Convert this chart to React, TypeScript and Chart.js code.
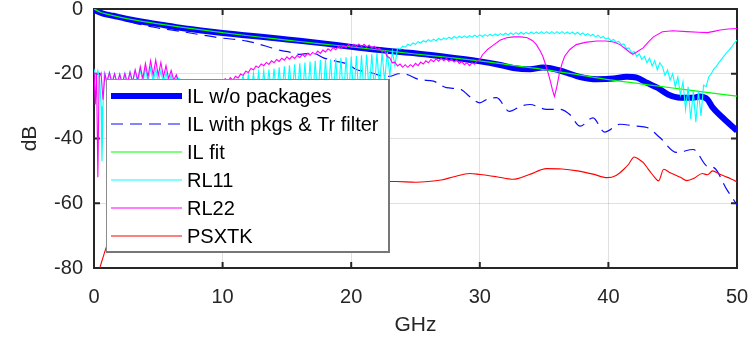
import React, { useEffect, useRef } from "react";
import { Chart, registerables } from "chart.js";

Chart.register(...registerables);

// ---------- axis ticks ----------
const xTickValues = [0, 10, 20, 30, 40, 50];
const yTickValues = [-80, -60, -40, -20, 0];

// ---------- legend labels ----------
const seriesLabels = [
  "IL w/o packages",
  "IL with pkgs & Tr filter",
  "IL fit",
  "RL11",
  "RL22",
  "PSXTK",
];

// ---------- IL w/o packages ----------
const ilFreq = [0, 0.3, 0.7, 1.5, 2.5, 4, 5.5, 6.7, 8.5, 10, 11.5, 13, 14.5, 16, 18, 20, 22, 24.8, 27, 29.9, 31.5, 32.6, 33.9, 34.9, 35.5, 36.2, 36.8, 37.8, 39.1, 40.4, 41.4, 42.2, 43, 43.8, 44.6, 45.6, 46.6, 47.1, 47.7, 48.1, 48.9, 50];
const ilValues = [0, -0.8, -1.4, -2.1, -3.0, -4.1, -5.0, -5.8, -6.7, -7.4, -8.0, -8.6, -9.2, -9.8, -10.7, -11.7, -12.6, -13.6, -14.6, -16.1, -17.2, -18.2, -18.6, -18.1, -18.3, -19.0, -19.7, -21.0, -21.7, -21.5, -20.9, -21.2, -22.8, -24.3, -26.3, -27.4, -27.4, -27.0, -27.9, -30.4, -33.6, -37.6];

// ---------- IL with pkgs & Tr filter ----------
const pkgFreq = [0, 1, 2, 3.3, 4.9, 6.7, 8.2, 9.8, 11.9, 13.4, 14.5, 15.2, 16, 17, 17.8, 18.7, 19.7, 20.4, 21.5, 22.2, 23, 23.7, 24.3, 25.3, 26.4, 27.4, 28.5, 29.2, 30, 30.6, 31.3, 32.3, 33.2, 33.9, 35.2, 36.2, 37, 37.8, 38.8, 39.7, 40.9, 42.2, 43, 44, 45.3, 46.6, 47.7, 48.2, 49.2, 50];
const pkgValues = [0, -1.6, -3.0, -4.5, -5.8, -6.9, -7.9, -8.9, -9.9, -11.5, -12.8, -13.3, -14.0, -13.6, -15.0, -16.0, -17.0, -18.7, -19.6, -20.5, -20.8, -20.0, -20.2, -21.8, -22.3, -24.3, -24.8, -27.0, -29.0, -27.8, -27.4, -31.6, -30.0, -29.5, -31.0, -31.0, -32.6, -36.2, -33.6, -38.0, -35.6, -36.2, -36.6, -39.7, -44.3, -43.4, -48.6, -49.0, -55.7, -60.5];

// ---------- IL fit ----------
const fitFreq = [0, 0.5, 1, 2, 3, 5, 7.5, 10, 12.5, 15, 17.5, 20, 22.5, 25, 27.5, 30, 32.5, 35, 37.5, 40, 42.5, 45, 47.5, 50];
const fitValues = [0, -1.0, -1.6, -2.5, -3.3, -4.6, -6.0, -7.3, -8.5, -9.6, -10.7, -11.7, -12.8, -13.9, -14.9, -16.0, -17.4, -18.7, -20.2, -21.8, -23.1, -24.4, -25.7, -26.9];

// ---------- RL11 ----------
const rl11FreqA = [0, 0.15, 0.3, 0.45, 0.55, 0.62, 0.7, 0.8, 1.0, 1.2, 1.4, 1.6, 1.8, 2.0, 2.2, 2.4, 2.6, 2.8, 3.0, 3.2, 3.4, 3.6, 3.8, 4.0, 4.2, 4.4, 4.6, 4.8, 5.0, 5.2, 5.4, 5.6, 5.8, 6.0, 6.2, 6.4];
const rl11ValuesA = [-18.5, -21.5, -19, -22, -30, -47, -30, -20, -23, -19.5, -23, -20, -23.5, -20, -23.5, -19.8, -23.5, -19.5, -23, -19, -23, -18.6, -22.8, -18.2, -22.5, -18.2, -22.5, -18.5, -22.8, -19, -23.2, -19.6, -23.5, -20.3, -24, -21];
const rl11FreqH = [6.8, 7.2, 7.6, 8.0, 8.4, 8.8, 9.2, 9.6, 10.0, 10.4, 10.8, 11.2];
const rl11ValuesH = [-22, -25, -22.2, -25.5, -22.4, -25.5, -22.5, -26, -22.3, -26, -22, -25.5];
const rl11FreqB = [11.6, 11.8, 12, 12.2, 12.4, 12.6, 12.8, 13, 13.2, 13.4, 13.6, 13.8, 14, 14.2, 14.4, 14.6, 14.8, 15, 15.2, 15.4, 15.6, 15.8, 16, 16.2, 16.4, 16.6, 16.8, 17, 17.2, 17.4, 17.6, 17.8, 18, 18.2, 18.4, 18.6, 18.8, 19, 19.2, 19.4, 19.6, 19.8, 20, 20.2, 20.4, 20.6, 20.8, 21, 21.2, 21.4, 21.6, 21.8, 22, 22.2, 22.4, 22.6, 22.8, 23, 23.2, 23.4];
const rl11ValuesB = [-20.6, -26, -20.3, -26, -19.9, -26.5, -19.5, -26.5, -19.1, -27, -18.7, -27, -18.4, -27, -18.0, -27.5, -17.7, -27.5, -17.4, -27.5, -17.1, -28, -16.8, -28, -16.5, -28, -16.2, -28, -16.0, -28, -15.8, -28, -15.6, -28, -15.5, -28, -15.3, -28, -15.1, -28, -14.9, -27.5, -14.7, -27.5, -14.5, -27, -14.3, -26.5, -14.1, -26, -13.9, -25, -13.7, -24, -13.5, -22.5, -13.3, -20.5, -13.1, -17.5];
const rl11FreqC = [23.6, 23.8, 24, 24.2, 24.4, 24.6, 24.8, 25, 25.2, 25.4, 25.6, 25.8, 26, 26.2, 26.4, 26.6, 26.8, 27, 27.2, 27.4, 27.6, 27.8, 28, 28.2, 28.4, 28.6, 28.8, 29, 29.2, 29.4, 29.6, 29.8, 30, 30.2, 30.4, 30.6, 30.8, 31, 31.2, 31.4, 31.6, 31.8, 32, 32.2, 32.4, 32.6, 32.8, 33, 33.2, 33.4, 33.6, 33.8, 34, 34.2, 34.4, 34.6, 34.8, 35, 35.2, 35.4, 35.6, 35.8, 36, 36.2, 36.4, 36.6, 36.8, 37, 37.2, 37.4, 37.6, 37.8, 38, 38.2, 38.4, 38.6, 38.8, 39, 39.2, 39.4, 39.6, 39.8, 40, 40.2, 40.4, 40.6, 40.8, 41, 41.2, 41.4, 41.6, 41.8, 42, 42.2, 42.4, 42.6, 42.8, 43, 43.2, 43.4, 43.6, 43.8, 44];
const rl11ValuesC = [-12.1, -12.4, -11.5, -11.8, -10.9, -11.3, -10.5, -10.9, -10.1, -10.5, -9.8, -10.2, -9.5, -10.0, -9.3, -9.8, -9.1, -9.6, -8.9, -9.4, -8.7, -9.2, -8.5, -9.0, -8.4, -8.9, -8.3, -8.8, -8.2, -8.7, -8.1, -8.6, -8.0, -8.5, -7.9, -8.4, -7.8, -8.3, -7.7, -8.2, -7.6, -8.1, -7.5, -8.0, -7.4, -7.9, -7.3, -7.8, -7.2, -7.8, -7.2, -7.7, -7.1, -7.7, -7.1, -7.6, -7.0, -7.6, -7.0, -7.6, -7.0, -7.6, -7.0, -7.6, -7.0, -7.6, -7.1, -7.7, -7.1, -7.8, -7.2, -7.9, -7.4, -8.1, -7.6, -8.3, -7.8, -8.6, -8.1, -8.9, -8.5, -9.3, -8.9, -9.8, -9.4, -10.3, -10.0, -11.0, -10.8, -12.2, -12.0, -13.5, -13.1, -14.6, -13.9, -15.6, -14.6, -16.6, -15.2, -17.6, -15.9, -18.8, -16.6];
const rl11FreqD = [44.2, 44.4, 44.6, 44.8, 45, 45.2, 45.4, 45.6, 45.8, 46, 46.2, 46.4, 46.6, 46.8, 47, 47.2, 47.4, 47.6, 47.8, 48, 48.2, 48.4, 48.6, 48.8, 49, 49.2, 49.4, 49.6, 49.8, 50];
const rl11ValuesD = [-17.8, -20.5, -18.8, -22, -20, -24, -21, -26.5, -22.5, -31, -24, -34, -25.5, -35, -25.5, -33, -23.5, -24, -21, -20, -18.5, -17.7, -16.5, -15.5, -14.5, -13.5, -12.6, -11.6, -10.5, -9.6];

// ---------- RL22 ----------
const rl22FreqA = [0, 0.1, 0.2, 0.3, 0.4, 0.55, 0.7, 0.85, 1.0, 1.2, 1.4, 1.6, 1.8, 2.0, 2.2, 2.4, 2.6, 2.8, 3.0, 3.2, 3.4, 3.6, 3.8, 4.0, 4.2, 4.4, 4.6, 4.8, 5.0, 5.2, 5.4, 5.6, 5.8, 6.0, 6.2, 6.4, 6.6];
const rl22ValuesA = [-19.5, -29.5, -20, -52, -21, -19.8, -28, -20, -22.5, -19.7, -22.8, -20, -23, -20.2, -23, -20, -22.8, -19.5, -22.5, -18.8, -22, -17.8, -21.5, -16.8, -21, -16, -20.5, -15.8, -20.5, -16.5, -21, -17.5, -21.5, -19, -22, -20.3, -23];
const rl22FreqH = [7.0, 7.5, 8.0, 8.5, 9.0, 9.5, 9.8, 10.0, 10.2, 10.4, 10.6, 10.8, 11.0, 11.2];
const rl22ValuesH = [-22, -24, -22.5, -24.5, -22.5, -23.5, -21.8, -22.8, -21.5, -22.5, -21.2, -22, -20.8, -21.3];
const rl22FreqB = [11.4, 11.6, 11.8, 12, 12.2, 12.4, 12.6, 12.8, 13, 13.2, 13.4, 13.6, 13.8, 14, 14.2, 14.4, 14.6, 14.8, 15, 15.2, 15.4, 15.6, 15.8, 16, 16.2, 16.4, 16.6, 16.8, 17, 17.2, 17.4, 17.6, 17.8, 18, 18.2, 18.4, 18.6, 18.8, 19, 19.2, 19.4, 19.6, 19.8, 20, 20.2, 20.4, 20.6, 20.8, 21, 21.2, 21.4, 21.6, 21.8, 22, 22.2, 22.4, 22.6, 22.8, 23, 23.2, 23.4, 23.6, 23.8, 24, 24.2, 24.4, 24.6, 24.8, 25, 25.2, 25.4, 25.6, 25.8, 26, 26.2, 26.4, 26.6, 26.8, 27, 27.2, 27.4, 27.6, 27.8, 28, 28.2, 28.4, 28.6, 28.8, 29, 29.2, 29.4, 29.6, 29.8, 30];
const rl22ValuesB = [-20.1, -20.5, -19.2, -19.6, -18.4, -18.8, -17.6, -18.1, -17.0, -17.5, -16.5, -17.1, -16.0, -16.6, -15.6, -16.2, -15.2, -15.8, -14.8, -15.5, -14.6, -15.3, -14.3, -15.0, -14.0, -14.7, -13.7, -14.3, -13.4, -14.0, -13.0, -13.7, -12.7, -13.3, -12.3, -12.9, -11.9, -12.6, -11.6, -12.2, -11.3, -11.9, -11.0, -11.7, -10.9, -11.6, -10.8, -11.6, -10.9, -11.8, -11.1, -12.1, -11.5, -12.5, -12.1, -13.2, -12.9, -14.7, -15.1, -16.6, -16.4, -17.6, -17.0, -18.0, -17.2, -18.0, -17.2, -17.8, -16.8, -17.5, -16.4, -17.0, -16.0, -16.6, -15.6, -16.3, -15.4, -16.1, -15.2, -16.0, -15.3, -16.2, -15.5, -16.4, -15.7, -16.8, -16.2, -17.2, -16.6, -17.5, -16.6, -17.1, -15.9, -15.7];
const rl22FreqC = [30.2, 30.6, 31.0, 31.6, 32.1, 32.6, 33.2, 33.7, 34.1, 34.4, 34.7, 34.9, 35.1, 35.3, 35.5, 35.65, 35.8, 35.9, 36.0, 36.2, 36.4, 36.6, 37.0, 37.5, 38.2, 39.1, 39.8, 40.4, 40.9, 41.4, 41.7, 41.9, 42.2, 42.7, 43.1, 43.5, 44.2, 45.0, 46.1, 47.0, 47.7, 48.2, 48.7, 49.3, 50.0];
const rl22ValuesC = [-14.2, -12.5, -11.3, -9.6, -8.9, -8.6, -8.6, -8.9, -9.8, -11.0, -13.0, -14.6, -17.0, -19.6, -22.5, -25.0, -27.0, -25.5, -23.8, -19.6, -16.8, -14.6, -12.5, -11.0, -10.3, -9.9, -9.9, -10.2, -11.0, -12.5, -13.5, -14.0, -13.3, -12.0, -10.2, -8.6, -7.0, -6.7, -7.0, -7.2, -7.3, -6.9, -6.5, -6.2, -6.0];

// ---------- PSXTK ----------
const xtFreq = [0.45, 0.6, 0.8, 1.0, 1.3, 1.7, 2.2, 3, 4, 5, 6.5, 8, 10, 12, 14, 16, 18, 20, 22, 23.5, 25, 26, 27, 28, 29.2, 30, 31.3, 32.6, 33.8, 35.2, 36.4, 37.6, 38.8, 39.9, 40.6, 41.2, 41.6, 42, 42.4, 42.7, 43.2, 43.6, 43.9, 44.3, 44.8, 45.6, 46.1, 46.7, 47.3, 47.7, 48.1, 48.6, 49, 49.5, 50];
const xtValues = [-80, -78, -75.5, -73, -69, -65, -62, -59, -57, -56, -55, -54.5, -54, -54, -53.8, -53.6, -53.5, -53.4, -53.3, -53.3, -53.5, -53.3, -52.8, -51.8, -50.8, -51.1, -51.8, -52.6, -51.2, -49.3, -49.4, -50.0, -51.0, -52.1, -51.4, -49.5, -47.8, -45.7, -46.5, -47.4, -50.0, -52.0, -53.1, -49.5, -50.6, -52.0, -53.0, -52.2, -50.8, -51.2, -50.0, -50.9, -51.6, -52.4, -53.4];

const FONT = '"Liberation Sans", Arial, Helvetica, sans-serif';
const AXIS = "#262626";
const GRID = "rgba(38,38,38,0.14)";

function pts(f: number[], v: number[]) {
  return f.map((x, i) => ({ x, y: v[i] }));
}

const frameLegendPlugin = {
  id: "frameLegend",
  beforeDatasetsDraw(chart: any) {
    const { ctx, chartArea: a, scales } = chart;
    ctx.save();
    ctx.strokeStyle = AXIS;
    ctx.lineWidth = 2;
    ctx.strokeRect(a.left, a.top, a.right - a.left, a.bottom - a.top);
    ctx.beginPath();
    for (const v of xTickValues) {
      const px = scales.x.getPixelForValue(v);
      ctx.moveTo(px, a.bottom);
      ctx.lineTo(px, a.bottom - 6);
      ctx.moveTo(px, a.top);
      ctx.lineTo(px, a.top + 6);
    }
    for (const v of yTickValues) {
      const py = scales.y.getPixelForValue(v);
      ctx.moveTo(a.left, py);
      ctx.lineTo(a.left + 6, py);
      ctx.moveTo(a.right, py);
      ctx.lineTo(a.right - 6, py);
    }
    ctx.stroke();
    ctx.restore();
  },
  afterDatasetsDraw(chart: any) {
    const { ctx, chartArea: a } = chart;
    const lx = a.left + 12;
    const ly = a.top + 70;
    const lw = 283;
    const lh = 173;
    ctx.save();
    ctx.fillStyle = "#ffffff";
    ctx.fillRect(lx, ly, lw, lh);
    ctx.fillStyle = "#8c8c8c";
    ctx.fillRect(lx, ly, lw, 1);
    ctx.fillRect(lx, ly, 1, lh);
    ctx.fillStyle = "#777777";
    ctx.fillRect(lx + lw - 1, ly, 2, lh + 1);
    ctx.fillRect(lx, ly + lh - 1, lw + 1, 2);
    chart.data.datasets.forEach((ds: any, i: number) => {
      const y = ly + 17 + i * 28;
      ctx.beginPath();
      ctx.strokeStyle = ds.borderColor;
      ctx.lineWidth = ds.borderWidth;
      ctx.setLineDash(ds.borderDash || []);
      ctx.moveTo(lx + 5, y);
      ctx.lineTo(lx + 76, y);
      ctx.stroke();
      ctx.setLineDash([]);
      ctx.fillStyle = "#000000";
      ctx.font = `20px ${FONT}`;
      ctx.textBaseline = "middle";
      ctx.textAlign = "left";
      ctx.fillText(ds.label, lx + 81, y + 1);
    });
    ctx.restore();
  },
};

export default function App() {
  const canvasRef = useRef<HTMLCanvasElement | null>(null);

  useEffect(() => {
    document.body.style.margin = "0";
    const canvas = canvasRef.current;
    if (!canvas) return;

    const rl11Freq = [...rl11FreqA, ...rl11FreqH, ...rl11FreqB, ...rl11FreqC, ...rl11FreqD];
    const rl11Values = [...rl11ValuesA, ...rl11ValuesH, ...rl11ValuesB, ...rl11ValuesC, ...rl11ValuesD];
    const rl22Freq = [...rl22FreqA, ...rl22FreqH, ...rl22FreqB, ...rl22FreqC];
    const rl22Values = [...rl22ValuesA, ...rl22ValuesH, ...rl22ValuesB, ...rl22ValuesC];

    const chart = new Chart(canvas, {
      type: "line",
      data: {
        datasets: [
          {
            label: seriesLabels[0],
            data: pts(ilFreq, ilValues),
            borderColor: "#0000ff",
            borderWidth: 6,
            cubicInterpolationMode: "monotone",
            order: 10,
          },
          {
            label: seriesLabels[1],
            data: pts(pkgFreq, pkgValues),
            borderColor: "#0a0aff",
            borderWidth: 1.2,
            borderDash: [12, 7],
            cubicInterpolationMode: "monotone",
            order: 9,
          },
          {
            label: seriesLabels[2],
            data: pts(fitFreq, fitValues),
            borderColor: "#00ff00",
            borderWidth: 1.2,
            cubicInterpolationMode: "monotone",
            order: 8,
          },
          {
            label: seriesLabels[3],
            data: pts(rl11Freq, rl11Values),
            borderColor: "#00ffff",
            borderWidth: 1.1,
            tension: 0,
            order: 7,
          },
          {
            label: seriesLabels[4],
            data: pts(rl22Freq, rl22Values),
            borderColor: "#ff00ff",
            borderWidth: 1.1,
            tension: 0,
            order: 6,
          },
          {
            label: seriesLabels[5],
            data: pts(xtFreq, xtValues),
            borderColor: "#ff0000",
            borderWidth: 1.1,
            cubicInterpolationMode: "monotone",
            order: 5,
          },
        ] as any,
      },
      options: {
        animation: false,
        responsive: false,
        devicePixelRatio: 1,
        events: [],
        layout: { padding: { top: 9, right: 14, left: 0, bottom: 0 } },
        elements: { point: { radius: 0 } },
        plugins: {
          legend: { display: false },
          tooltip: { enabled: false },
        },
        scales: {
          x: {
            type: "linear",
            min: 0,
            max: 50,
            afterBuildTicks: (s: any) => {
              s.ticks = xTickValues.map((v) => ({ value: v }));
            },
            afterFit: (s: any) => {
              s.height = 71;
              s.paddingLeft = 0;
              s.paddingRight = 0;
            },
            ticks: {
              color: AXIS,
              font: { family: FONT, size: 20 },
              padding: 17,
              maxRotation: 0,
            },
            grid: { color: GRID, drawTicks: false, lineWidth: 1 },
            border: { display: false },
            title: {
              display: true,
              text: "GHz",
              color: AXIS,
              font: { family: FONT, size: 21 },
              padding: { top: 0, bottom: 1 },
            },
          },
          y: {
            type: "linear",
            min: -80,
            max: 0,
            afterBuildTicks: (s: any) => {
              s.ticks = yTickValues.map((v) => ({ value: v }));
            },
            afterFit: (s: any) => {
              s.width = 94;
              s.paddingTop = 0;
              s.paddingBottom = 0;
            },
            ticks: {
              color: AXIS,
              font: { family: FONT, size: 20 },
              padding: 11,
            },
            grid: { color: GRID, drawTicks: false, lineWidth: 1 },
            border: { display: false },
            title: {
              display: true,
              text: "dB",
              color: AXIS,
              font: { family: FONT, size: 21 },
              padding: { top: 18, bottom: 0 },
            },
          },
        },
      },
      plugins: [frameLegendPlugin],
    });

    return () => {
      chart.destroy();
    };
  }, []);

  return (
    <div style={{ width: 751, height: 339, position: "relative" }}>
      <canvas ref={canvasRef} width={751} height={339} style={{ display: "block" }} />
    </div>
  );
}
